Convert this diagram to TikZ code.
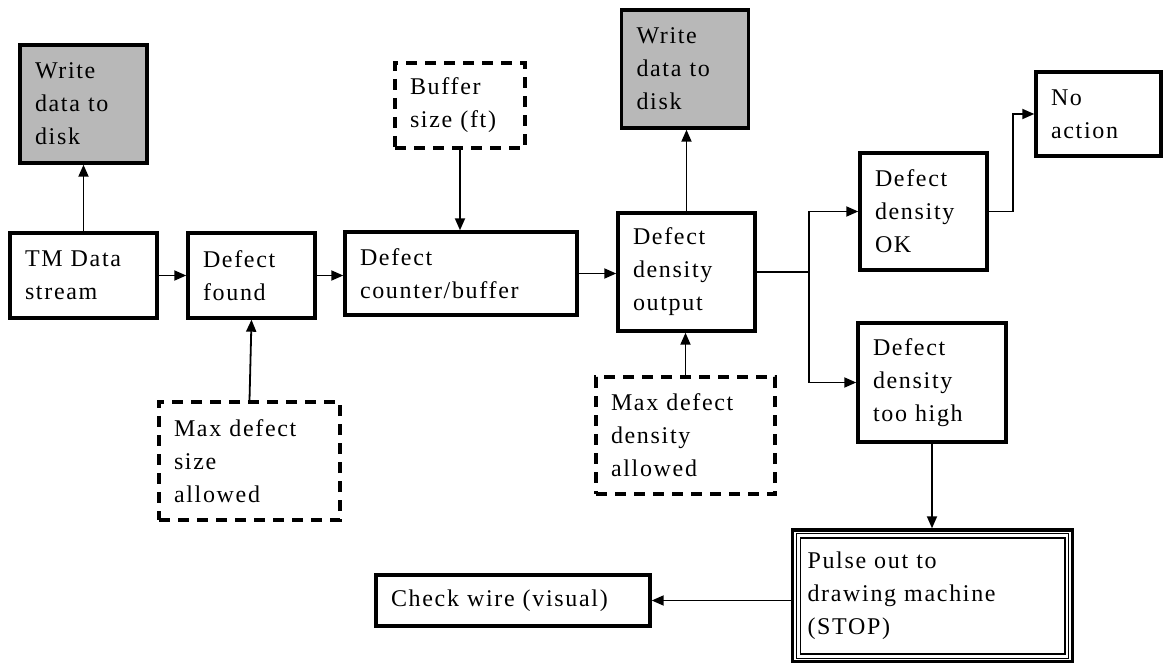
\documentclass[tikz,border=0pt]{standalone}
\usepackage{fontspec}
\setmainfont[LetterSpace=7]{Liberation Serif}
\usetikzlibrary{arrows.meta}
\tikzset{
  box/.style={draw, line width=3.4pt, inner sep=0pt, align=left,
    font=\fontsize{24}{33}\selectfont},
  solidbox/.style={box},
  graybox/.style={box, fill=black!28},
  dashbox/.style={box, dash pattern=on 11pt off 8pt, line width=3.2pt},
  arr/.style={line width=1.8pt, -{Triangle[length=12pt,width=10pt]}},
  ln/.style={line width=1.8pt},
}
\newcommand{\bx}[7]{% style, name, cx, cy, W, H, text
  \node[#1, minimum width=#5pt, minimum height=#6pt, text width=#5pt-30pt] (#2) at (#3,#4) {#7};}
\begin{document}
\begin{tikzpicture}[x=1pt,y=-1pt]
\useasboundingbox (0,0) rectangle (1163,663);
\bx{graybox}{w1}{83.5}{104}{127}{118}{Write\\data to\\disk}
\bx{solidbox}{tm}{83.5}{275.5}{147}{85}{TM Data\\stream}
\bx{solidbox}{found}{251.5}{275.5}{127}{85}{Defect\\found}
\bx{dashbox}{maxsize}{249.5}{461}{181}{118}{Max defect\\size\\allowed}
\bx{solidbox}{counter}{461}{273.5}{232}{83}{Defect\\counter/buffer}
\bx{dashbox}{buffer}{460}{105.5}{130}{85}{Buffer\\size (ft)}
\bx{solidbox}{output}{686.5}{272}{137}{118}{Defect\\density\\output}
\bx{graybox}{w2}{685}{69}{127}{118}{Write\\data to\\disk}
\bx{dashbox}{maxdens}{685.5}{435.5}{179}{117}{Max defect\\density\\allowed}
\bx{solidbox}{ok}{923.5}{211.5}{127}{117}{Defect\\density\\OK}
\bx{solidbox}{noact}{1098.5}{114}{125}{84}{No\\action}
\bx{solidbox}{high}{932}{382.5}{148}{119}{Defect\\density\\too high}
\bx{solidbox}{pulse}{932.5}{596}{280}{132}{Pulse out to\\drawing machine\\(STOP)}
\draw[line width=1.2pt] ([shift={(5.5,-5.5)}]pulse.south west) rectangle ([shift={(-5.5,5.5)}]pulse.north east);
\draw[line width=1.6pt] ([shift={(9.5,-9.5)}]pulse.south west) rectangle ([shift={(-9.5,9.5)}]pulse.north east);
\bx{solidbox}{check}{513}{600.5}{274}{51}{Check wire (visual)}
% connectors
\draw[arr] (tm.north) -- (w1.south);
\draw[arr] (tm.east) -- (found.west);
\draw[arr] (maxsize.north) -- (found.south);
\draw[arr] (found.east) -- (found.east -| counter.west);
\draw[arr] (buffer.south) -- (buffer.south |- counter.north);
\draw[arr] (counter.east) -- (counter.east -| output.west);
\draw[arr] (output.north) -- (output.north |- w2.south);
\draw[arr] (maxdens.north) -- (maxdens.north |- output.south);
\coordinate (br) at ([xshift=52pt]output.east);
\draw[ln] (output.east) -- (br);
\draw[arr] (br) |- (ok.west);
\draw[arr] (br) |- (high.west);
\coordinate (okr) at ([xshift=24pt]ok.east);
\draw[arr] (ok.east) -- (okr) |- (noact.west);
\draw[arr] (high.south) -- (high.south |- pulse.north);
\draw[arr] (pulse.west |- check.east) -- (check.east);
\end{tikzpicture}
\end{document}
